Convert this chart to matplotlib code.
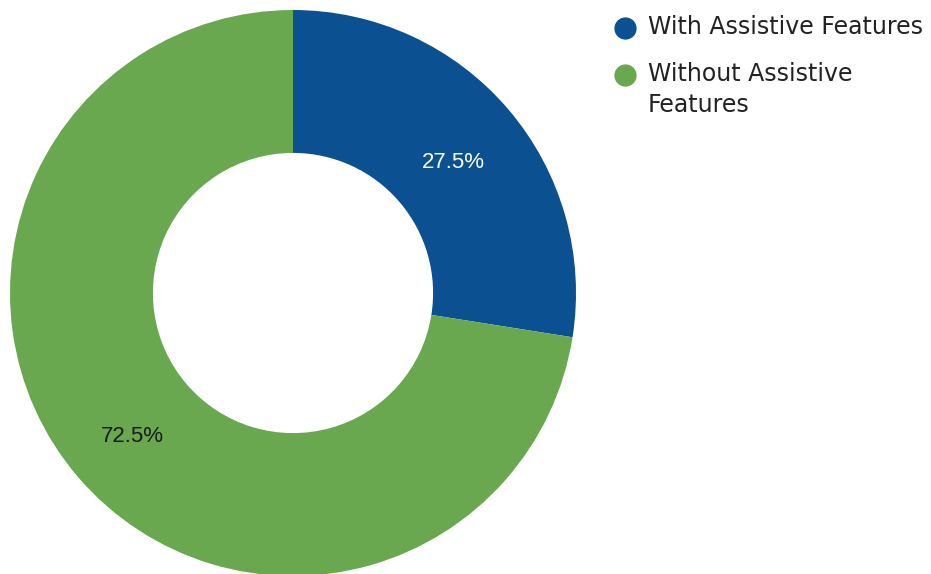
import matplotlib.pyplot as plt
from matplotlib.lines import Line2D

labels = ["With Assistive Features", "Without Assistive\nFeatures"]
shares = [27.5, 72.5]
colors = ["#0B5091", "#69A84F"]
text_colors = ["white", "#1a1a1a"]

W, H = 931, 574
fig = plt.figure(figsize=(W / 100, H / 100), dpi=100)

# donut placed in pixel terms: centre (293, 293), radius 283
cx, cy, r = 293, 293, 283
ax = fig.add_axes([(cx - r) / W, (H - cy - r) / H, 2 * r / W, 2 * r / H])

wedges, texts, autotexts = ax.pie(
    shares,
    colors=colors,
    startangle=90,
    counterclock=False,
    radius=1.0,
    wedgeprops=dict(width=0.505, linewidth=0),
    autopct=lambda p: f"{p:.1f}%",
    pctdistance=0.745,
)
for t, c in zip(autotexts, text_colors):
    t.set_color(c)
    t.set_fontsize(16)
    t.set_fontfamily("Liberation Sans")
    # labels sit a touch below the ring midline
    x, y = t.get_position()
    t.set_position((x, y - 0.022))

ax.set_xlim(-1, 1)
ax.set_ylim(-1, 1)
ax.set_aspect("equal")
ax.axis("off")

# legend drawn by hand so the marker sits on the first line of wrapped labels
leg_y = [28, 75]
for lab, col, y in zip(labels, colors, leg_y):
    fig.add_artist(Line2D([625 / W], [1 - y / H], marker="o", markersize=15,
                          color=col, linestyle="none", transform=fig.transFigure))
    fig.text(648 / W, 1 - (y - 13) / H, lab, fontsize=17, color="#222222",
             va="top", ha="left", family="DejaVu Sans", linespacing=1.35)

fig.savefig("out.png", dpi=100)
